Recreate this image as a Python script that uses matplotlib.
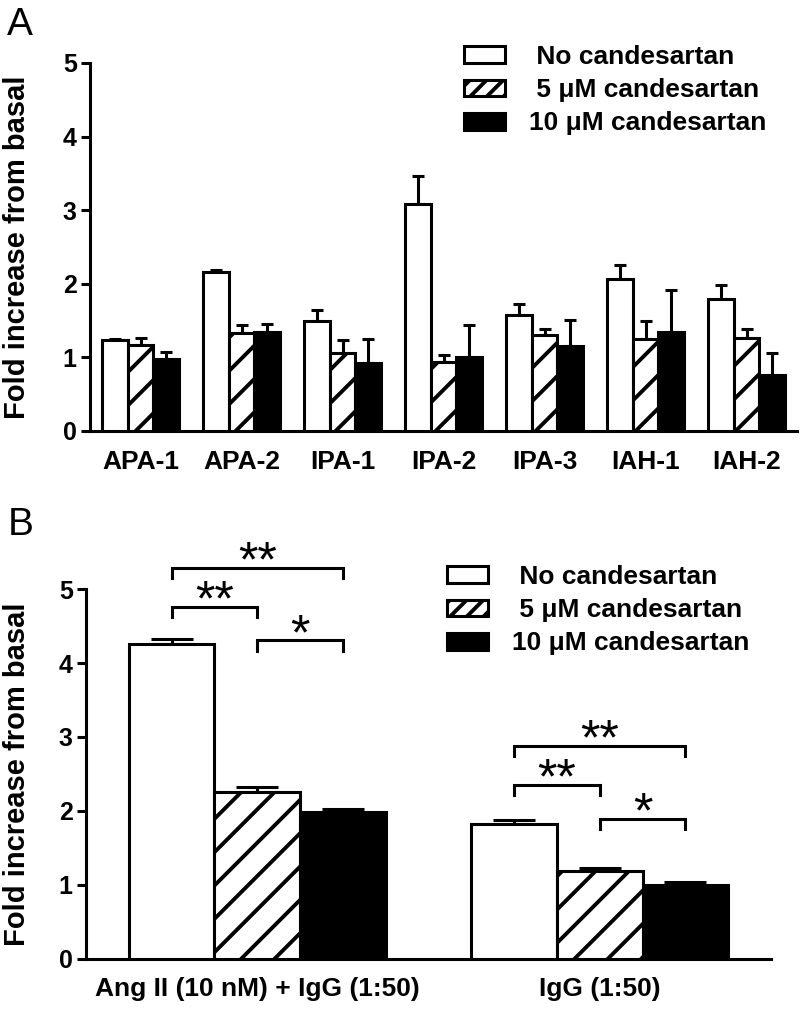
import numpy as np
import matplotlib
matplotlib.use('Agg')
from matplotlib import pyplot as plt
from matplotlib.patches import Patch

# painel A: linhas celulares
grupos_a = ['APA-1', 'APA-2', 'IPA-1', 'IPA-2', 'IPA-3', 'IAH-1', 'IAH-2']
sem_a = [1.23, 2.16, 1.50, 3.08, 1.58, 2.06, 1.80]
sem_a_err = [0.02, 0.03, 0.15, 0.39, 0.15, 0.20, 0.19]
c5_a = [1.17, 1.33, 1.06, 0.94, 1.30, 1.25, 1.27]
c5_a_err = [0.09, 0.11, 0.17, 0.09, 0.09, 0.25, 0.12]
c10_a = [0.98, 1.35, 0.93, 1.01, 1.15, 1.34, 0.76]
c10_a_err = [0.10, 0.10, 0.32, 0.43, 0.36, 0.58, 0.30]

# painel B: Ang II + IgG vs IgG
grupos_b = ['Ang II (10 nM) + IgG (1:50)', 'IgG (1:50)']
sem_b = [4.26, 1.82]
sem_b_err = [0.07, 0.06]
c5_b = [2.25, 1.19]
c5_b_err = [0.07, 0.03]
c10_b = [1.98, 1.00]
c10_b_err = [0.05, 0.03]

# colchetes de significância: (barra inicial, barra final), texto, altura por grupo
sig_pares = [(0, 2), (0, 1), (1, 2)]
sig_textos = ['**', '**', '*']
sig_alturas = [[5.29, 4.76, 4.31], [2.88, 2.35, 1.89]]

legendas = [' No candesartan', ' 5 \u03bcM candesartan', '10 \u03bcM candesartan']

plt.rcParams['font.family'] = ['Liberation Sans', 'DejaVu Sans']
plt.rcParams['font.weight'] = 'bold'
plt.rcParams['hatch.linewidth'] = 2.8
plt.rcParams['axes.linewidth'] = 2.2
LW = 2.2

estilos = [dict(facecolor='white'),
           dict(facecolor='white', hatch='/'),
           dict(facecolor='black')]


def barras(ax, n, series, erros, largura, capsize):
    centros = np.arange(n)
    xs = []
    for k, (vals, errs, est) in enumerate(zip(series, erros, estilos)):
        x = centros + (k - 1) * largura
        xs.append(x)
        ax.bar(x, vals, largura, edgecolor='black', linewidth=LW, zorder=3, **est)
        ax.errorbar(x, vals, yerr=[np.zeros(n), errs], fmt='none', ecolor='black',
                    elinewidth=LW, capsize=capsize, capthick=LW, zorder=2)
    return xs


def eixos(ax, nomes, xpad):
    ax.spines['top'].set_visible(False)
    ax.spines['right'].set_visible(False)
    ax.set_ylim(0, 5)
    ax.set_yticks(range(6))
    ax.set_xticks(range(len(nomes)))
    ax.set_xticklabels(nomes)
    ax.tick_params(axis='y', direction='out', length=6.5, width=LW, labelsize=18, pad=3)
    ax.tick_params(axis='x', length=0, labelsize=19, pad=xpad)


def legenda(ax, fig, x, y):
    handles = [Patch(facecolor='white', edgecolor='black', linewidth=LW),
               Patch(facecolor='white', edgecolor='black', linewidth=LW, hatch='//'),
               Patch(facecolor='black', edgecolor='black', linewidth=LW)]
    ax.legend(handles, legendas, loc='upper left', bbox_to_anchor=(x / 800, 1 - y / 1018),
              bbox_transform=fig.transFigure, frameon=False, fontsize=19,
              handlelength=1.55, handleheight=0.6, handletextpad=0.9,
              labelspacing=0.35, borderpad=0, borderaxespad=0)


fig = plt.figure(figsize=(8, 10.18), dpi=100)

# painel A
axa = fig.add_axes([90 / 800, 1 - 431 / 1018, 707 / 800, 368 / 1018])
barras(axa, len(grupos_a), [sem_a, c5_a, c10_a], [sem_a_err, c5_a_err, c10_a_err], 0.257, 4.3)
eixos(axa, grupos_a, 13.5)
axa.set_xlim(-0.5, 6.5)
legenda(axa, fig, 464, 45)
fig.text(17 / 800, 1 - 247 / 1018, 'Fold increase from basal', rotation=90,
         ha='center', va='center', fontsize=21)
fig.text(7 / 800, 1 - 35 / 1018, 'A', fontsize=28, fontweight='normal', va='baseline')

# painel B
axb = fig.add_axes([86 / 800, 1 - 958.5 / 1018, 685 / 800, 369.2 / 1018])
xs = barras(axb, len(grupos_b), [sem_b, c5_b, c10_b], [sem_b_err, c5_b_err, c10_b_err], 0.25, 15)
eixos(axb, grupos_b, 13)
axb.set_xlim(-0.5, 1.5)
legenda(axb, fig, 447, 565)
fig.text(17 / 800, 1 - 774 / 1018, 'Fold increase from basal', rotation=90,
         ha='center', va='center', fontsize=21)
fig.text(8 / 800, 1 - 535 / 1018, 'B', fontsize=28, fontweight='normal', va='baseline')

for g in range(len(grupos_b)):
    for (i, j), texto, y in zip(sig_pares, sig_textos, sig_alturas[g]):
        x0, x1 = xs[i][g], xs[j][g]
        axb.plot([x0, x0, x1, x1], [y - 0.14, y, y, y - 0.14], color='black', lw=LW,
                 clip_on=False, solid_joinstyle='miter')
        axb.text((x0 + x1) / 2, y - 0.12, texto, ha='center', va='baseline',
                 fontsize=36, fontweight='normal', clip_on=False)

fig.savefig('out.png', dpi=100)
